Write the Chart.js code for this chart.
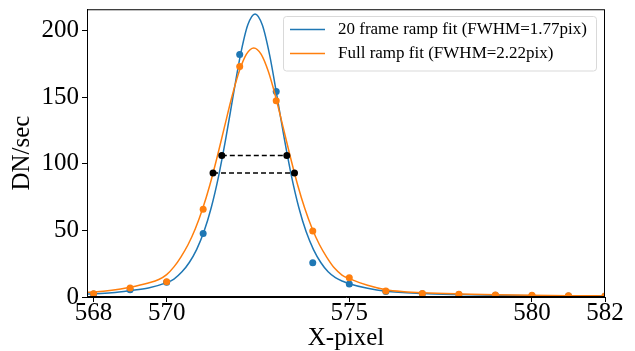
<!DOCTYPE html>
<html>
<head>
<meta charset="utf-8">
<script src="https://cdn.jsdelivr.net/npm/chart.js@4"></script>
<style>
  html, body { margin: 0; padding: 0; background: #fff; }
  #wrap { width: 635px; height: 351px; }
</style>
</head>
<body>
<div id="wrap"><canvas id="c" width="635" height="351"></canvas></div>
<script>
const xTicks = [568, 570, 575, 580, 582];
const yTicks = [0, 50, 100, 150, 200];

// measured pixel values
const pixels = [568, 569, 570, 571, 572, 573, 574, 575, 576, 577, 578, 579, 580, 581, 582];
const blueDots = [2.3, 5.5, 11, 47.7, 182, 154.2, 25.8, 9.8, 4.2, 2.5, 1.8, 1.3, 1.0, 0.8, 0.6];
const orangeDots = [2.5, 6.8, 11.5, 65.8, 173, 147.4, 49.5, 14.5, 4.5, 2.7, 2.0, 1.5, 1.3, 1.0, 0.7];

// fitted profiles
const blueFitX = [567.82, 568.5, 569, 569.5, 570, 570.2, 570.42, 570.62, 570.82, 571.02, 571.22, 571.42,
  571.62, 571.82, 572.02, 572.22, 572.42, 572.62, 572.82, 573.02, 573.22, 573.42, 573.62, 573.82,
  574.02, 574.22, 574.42, 574.62, 574.82, 575, 575.5, 576, 577, 578, 579, 580, 581, 582];
const blueFitY = [2.2, 3.2, 4.8, 6.8, 10.8, 13.5, 18.9, 25.9, 35.6, 48.9, 67, 90.4,
  119, 150.9, 181.5, 204.1, 212.5, 204.1, 181.5, 150.9, 119, 90.4, 67, 48.9,
  35.6, 25.9, 18.9, 14.5, 11.8, 10, 6.5, 4.3, 2.6, 1.8, 1.3, 1.0, 0.8, 0.6];

const orangeFitX = [567.82, 568, 568.5, 569, 569.5, 569.785, 570, 570.2, 570.385, 570.585, 570.785, 570.985, 571.185,
  571.385, 571.585, 571.785, 571.985, 572.185, 572.385, 572.585, 572.785, 572.985, 573.185, 573.385,
  573.585, 573.785, 573.985, 574.185, 574.385, 574.6, 574.8, 575, 575.5, 576, 576.5, 577, 578, 579, 580, 581, 582];
const orangeFitY = [3.5, 3.7, 5.0, 7.3, 10.5, 13.1, 16.8, 22.6, 29.8, 39.2, 51.2, 66.2, 84.3,
  105.3, 127.9, 150.1, 169.2, 182.3, 187, 182.3, 169.2, 150.1, 127.9, 105.3,
  84.3, 66.2, 51.2, 39.2, 29.8, 21.5, 16.5, 13.8, 8.8, 5.5, 4.0, 3.2, 2.3, 1.7, 1.3, 1.0, 0.8];

// half maximum levels and crossings (blue, orange)
const halfMax = [106.2, 93.1];
const halfLeft = [571.51, 571.27];
const halfRight = [573.29, 573.50];

const labels = ["20 frame ramp fit (FWHM=1.77pix)", "Full ramp fit (FWHM=2.22pix)"];
const blue = "#1f77b4";
const orange = "#ff7f0e";
const serif = "'Liberation Serif', 'DejaVu Serif', serif";

const pts = (xs, ys) => xs.map((x, i) => ({ x: x, y: ys[i] }));

const datasets = [
  {
    label: "blue dots", data: pts(pixels, blueDots), showLine: false,
    pointRadius: 3.5, pointBackgroundColor: blue, pointBorderWidth: 0, order: 5,
  },
  {
    label: labels[0], data: pts(blueFitX, blueFitY), borderColor: blue, borderWidth: 1.5,
    pointRadius: 0, cubicInterpolationMode: "monotone", order: 4,
  },
  {
    label: "orange dots", data: pts(pixels, orangeDots), showLine: false,
    pointRadius: 3.5, pointBackgroundColor: orange, pointBorderWidth: 0, order: 3,
  },
  {
    label: labels[1], data: pts(orangeFitX, orangeFitY), borderColor: orange, borderWidth: 1.5,
    pointRadius: 0, cubicInterpolationMode: "monotone", order: 2,
  },
];
halfMax.forEach((lvl, i) => {
  datasets.push({
    label: "half max " + i,
    data: [{ x: halfLeft[i], y: lvl }, { x: halfRight[i], y: lvl }],
    borderColor: "#000", borderWidth: 1.5, borderDash: [5, 3],
    pointRadius: 3.5, pointBackgroundColor: "#000", pointBorderWidth: 0, order: 1,
  });
});

// top/right spines and the legend box
const framePlugin = {
  id: "frame",
  afterDraw(chart) {
    const ctx = chart.ctx;
    const a = chart.chartArea;
    ctx.save();
    ctx.strokeStyle = "#000";
    ctx.lineWidth = 1;
    ctx.strokeRect(a.left + 0.5, a.top + 0.5, a.right - a.left - 1, a.bottom - a.top - 1);

    // legend
    const bx = 283.5, by = 16.5, bw = 313, bh = 54.5, r = 3;
    ctx.beginPath();
    ctx.moveTo(bx + r, by);
    ctx.arcTo(bx + bw, by, bx + bw, by + bh, r);
    ctx.arcTo(bx + bw, by + bh, bx, by + bh, r);
    ctx.arcTo(bx, by + bh, bx, by, r);
    ctx.arcTo(bx, by, bx + bw, by, r);
    ctx.closePath();
    ctx.fillStyle = "rgba(255,255,255,0.8)";
    ctx.fill();
    ctx.strokeStyle = "#d9d9d9";
    ctx.stroke();

    const colors = [blue, orange];
    const rows = [29.5, 53.5];
    ctx.font = "17px " + serif;
    ctx.textBaseline = "middle";
    ctx.textAlign = "left";
    rows.forEach((y, i) => {
      ctx.strokeStyle = colors[i];
      ctx.lineWidth = 1.5;
      ctx.beginPath();
      ctx.moveTo(290, y);
      ctx.lineTo(325, y);
      ctx.stroke();
      ctx.fillStyle = "#000";
      ctx.fillText(labels[i], 338, y);
    });
    ctx.restore();
  },
};

new Chart(document.getElementById("c"), {
  type: "line",
  data: { datasets: datasets },
  options: {
    responsive: false,
    animation: false,
    events: [],
    layout: { padding: { top: 6, right: 30, left: 0, bottom: 0 } },
    plugins: { legend: { display: false }, tooltip: { enabled: false } },
    scales: {
      x: {
        type: "linear",
        min: 567.82,
        max: 582,
        afterBuildTicks: (s) => { s.ticks = xTicks.map((v) => ({ value: v })); },
        afterFit: (s) => { s.height = 54; },
        grid: { drawOnChartArea: false, drawTicks: true, tickLength: 5, color: "#000" },
        border: { display: true, color: "#000", width: 1 },
        ticks: { color: "#000", font: { family: serif, size: 25 }, padding: -4, maxRotation: 0 },
        title: {
          display: true, text: "X-pixel", color: "#000",
          font: { family: serif, size: 25, lineHeight: 1 }, padding: 0,
        },
      },
      y: {
        min: 0,
        max: 216,
        afterBuildTicks: (s) => { s.ticks = yTicks.map((v) => ({ value: v })); },
        afterFit: (s) => { s.width = 87; },
        grid: { drawOnChartArea: false, drawTicks: true, tickLength: 5, color: "#000" },
        border: { display: true, color: "#000", width: 1 },
        ticks: { color: "#000", font: { family: serif, size: 25, lineHeight: 0.5 }, padding: 3 },
        title: {
          display: true, text: "DN/sec", color: "#000",
          font: { family: serif, size: 25, lineHeight: 1 }, padding: { top: 10, bottom: 0 },
        },
      },
    },
  },
  plugins: [framePlugin],
});
</script>
</body>
</html>
